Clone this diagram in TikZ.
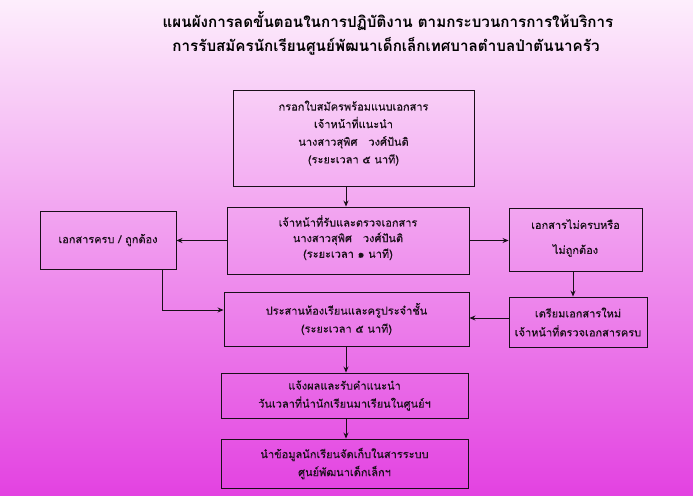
\documentclass[tikz,border=0pt]{standalone}
\usepackage{fontspec}
\newfontfamily\thai[Script=Thai]{Loma}
\newfontfamily\thaibody[Script=Thai,FakeBold=0.35]{Loma}
\usetikzlibrary{arrows.meta}
\definecolor{bgtop}{RGB}{253,238,252}
\definecolor{bgmid}{RGB}{239,142,236}
\definecolor{bgbot}{RGB}{227,66,225}
\definecolor{ink}{RGB}{25,15,25}
\newcommand{\dropby}[1]{\rule[-#1]{0pt}{0pt}}
\tikzset{
  box/.style={draw=ink, line width=0.9pt, align=center, inner sep=0pt,
    font=\thaibody\fontsize{11}{18}\selectfont, text=ink},
  arr/.style={draw=ink, line width=0.9pt, -{Stealth[length=6pt,width=5pt]}},
  ttl/.style={font=\thai\bfseries\fontsize{15.2}{24}\selectfont, text=black, align=center, inner sep=0pt}
}
\begin{document}
\begin{tikzpicture}[x=1pt,y=-1pt]
\useasboundingbox (0,0) rectangle (693,495);
\shade[top color=bgtop, middle color=bgmid, bottom color=bgbot] (0,0) rectangle (693,495);

\node[ttl] (t1) at (388,21) {แผนผังการลดขั้นตอนในการปฏิบัติงาน ตามกระบวนการการให้บริการ};
\node[ttl] (t2) at (386,46) {การรับสมัครนักเรียนศูนย์พัฒนาเด็กเล็กเทศบาลตำบลป่าตันนาครัว};

\node[box, minimum width=241pt, minimum height=96pt, font=\thaibody\fontsize{11}{17.6}\selectfont] (A) at (353.5,138)
  {กรอกใบสมัครพร้อมแนบเอกสาร\\เจ้าหน้าที่แนะนำ\\นางสาวสุพิศ\quad วงศ์ปันติ\\(ระยะเวลา ๕ นาที)\dropby{12pt}};
\node[box, minimum width=242pt, minimum height=67pt, font=\thaibody\fontsize{11}{15.6}\selectfont] (B) at (348,240.5)
  {เจ้าหน้าที่รับและตรวจเอกสาร\\นางสาวสุพิศ\quad วงศ์ปันติ\\(ระยะเวลา ๑ นาที)\dropby{8pt}};
\node[box, minimum width=136pt, minimum height=58pt] (L) at (108,240)
  {เอกสารครบ / ถูกต้อง};
\node[box, minimum width=133pt, minimum height=63pt, font=\thaibody\fontsize{11}{25}\selectfont] (R) at (575.5,239.5)
  {เอกสารไม่ครบหรือ\\ไม่ถูกต้อง\dropby{6pt}};
\node[box, minimum width=138pt, minimum height=50pt, font=\thaibody\fontsize{11}{19}\selectfont] (G) at (578,322)
  {เตรียมเอกสารใหม่\\เจ้าหน้าที่ตรวจเอกสารครบ};
\node[box, minimum width=245pt, minimum height=54pt] (D) at (346.5,319)
  {ประสานห้องเรียนและครูประจำชั้น\\(ระยะเวลา ๕ นาที)};
\node[box, minimum width=247pt, minimum height=45pt] (E) at (344.5,395.5)
  {แจ้งผลและรับคำแนะนำ\\วันเวลาที่นำนักเรียนมาเรียนในศูนย์ฯ};
\node[box, minimum width=247pt, minimum height=49pt] (F) at (344.5,463.5)
  {นำข้อมูลนักเรียนจัดเก็บในสารระบบ\\ศูนย์พัฒนาเด็กเล็กฯ};

\coordinate (spine) at (346,0);
\coordinate (rspine) at (573,0);
\coordinate (lspine) at (162,0);
\coordinate (grow) at (0,318);
\coordinate (lrow) at (0,310);

\draw[arr] (A.south -| spine) -- (B.north -| spine);
\draw[arr] (B.west) -- (B.west -| L.east);
\draw[arr] (B.east) -- (B.east -| R.west);
\draw[arr] (R.south -| rspine) -- (G.north -| rspine);
\draw[arr] (G.west |- grow) -- (D.east |- grow);
\draw[arr] (L.south -| lspine) |- (D.west |- lrow);
\draw[arr] (D.south -| spine) -- (E.north -| spine);
\draw[arr] (E.south -| spine) -- (F.north -| spine);
\end{tikzpicture}
\end{document}
